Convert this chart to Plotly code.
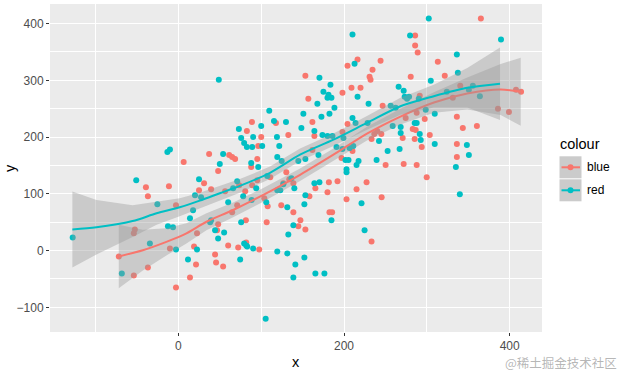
import plotly.graph_objects as go

# ---------------- data ----------------
red_x = [-39.2, -11.4, 6.4, 31.0, 37.1, 48.0, 39.5, 61.3, 64.9, 68.5, 82.7, 88.8, 96.4, 100.0, 117.8,
         132.7, 153.3, 156.9, 87.9, 95.2, 95.2, 89.1, 110.9, 130.3, 126.7, 138.8, 133.9, 73.4, 80.7,
         56.4, 103.7, 24.9, -2.9, -36.8, -52.6, -53.8, -71.9, -53.8, -36.8, -10.2, -2.9, 14.0, 18.9,
         21.3, 22.5, 46.7, 48.0, 44.3, 45.5, 54.0, 60.1, 64.9, 72.2, 81.5, 81.9, 97.6, 106.6, 107.8,
         124.2, 71.0, 144.8, 147.3, 153.3, 138.8, 158.2, 165.4, 180.0, 181.7, 192.1, 203.0, 215.1,
         227.2, 245.4, 182.4, 185.6, 233.2, 161.8, 164.2, 198.1, 196.9, 161.8, 210.2, 250.2, 272.0,
         287.7, 233.2, 236.5, 240.1, 245.0, 270.8, 285.3, 282.9, 286.5, 303.5, 293.8, 336.2, 336.2,
         299.8, 204.2, 246.6, 274.4, 287.7, 297.4, 336.2, 343.4, 360.4, 385.8, 399.1, 407.6, 413.7,
         340.3, 331.3, 291.4, 198.1, 209.0, 219.9, 204.2, 216.3, 244.1, 234.4, 230.8, 232.0, 280.5,
         321.6, 313.2, 285.8, 285.8, 288.9, 365.2]
red_y = [111.7, 113.5, 155.9, 118.8, 170.1, 140.0, 108.1, 168.3, 164.8, 161.2, 210.8, 226.7, 184.3,
         200.2, 225.0, 203.7, 308.2, 267.4, 147.1, 161.2, 124.1, 115.2, 129.4, 138.2, 118.8, 118.8,
         125.8, 115.2, 104.6, 104.6, 92.2, 106.4, 79.8, 95.8, 37.3, 30.3, -10.4, -44.1, -29.9, 3.7,
         -65.3, -47.6, 7.3, -24.6, 30.3, 35.6, 46.2, -6.9, -21.1, -28.1, 9.0, 67.4, 5.5, 53.3, 14.3,
         1.9, 49.7, 78.1, 79.8, 79.8, 42.7, 53.3, 37.3, 67.4, 95.8, 109.9, 102.8, 120.5, 122.3, 90.4,
         108.1, 120.5, 94.0, 67.4, 67.4, 16.1, 226.7, 202.0, 209.0, 163.0, 177.2, 175.4, 150.6, 152.4,
         150.6, 196.6, 205.5, 210.8, 205.5, 198.4, 196.6, 214.3, 212.6, 203.7, 182.5, 187.8, 164.8,
         129.4, 223.2, 255.1, 233.8, 242.7, 232.0, 235.6, 216.1, 219.7, 249.7, 244.4, 283.4, 279.8,
         290.5, 269.2, 272.8, 278.1, 286.9, 286.9, 325.9, 336.5, 334.7, 318.8, 306.4, 301.1, 306.4,
         308.2, 332.9, 379.0, 361.3, 348.9, 409.0]

teal_x = [48.8, -50.9, -13.3, -10.2, 24.9, 50.0, 54.0, 71.0, 73.0, 75.8, 79.4, 82.7, 89.1, 90.3, 100.0,
          101.2, 109.7, 115.4, 119.0, 121.8, 129.9, 148.5, 150.9, 87.9, 96.4, 107.3, 119.4, 124.7,
          136.4, 144.8, 153.3, 302.3, 210.2, 279.7, 389.5, 336.2, 212.7, 170.3, 337.4, 304.7, 183.6,
          175.1, 216.3, 181.2, 184.8, 180.0, 265.9, 272.0, 273.2, 276.1, 278.5, 355.5, 350.7, 324.1,
          364.0, 290.2, 167.8, 188.4, 229.6, 256.3, 262.3, 298.6, 309.5, 210.2, 182.4, 172.7, 213.9,
          228.4, 258.7, 268.4, 164.2, 268.4, 285.3, 287.7, 173.9, 180.0, 186.0, 199.3, 242.2, 291.4,
          292.6, 309.5, 348.3, 190.9, 198.1, 206.6, 211.1, 267.1, 252.6, 169.1, 350.7, 239.3, 201.7,
          205.4, 217.5, 215.1, 335.0, 203.0, 203.0, 164.2, 170.3, 153.3, 152.1, 221.1, 339.8, 184.8,
          224.8, 152.1, 165.4, 176.3, -127.6, -68.3, -34.4, -25.4, -12.6, -6.5, -2.9, 11.6, 14.0,
          17.7, 20.1, 22.5, 27.4, 38.3, 39.5, 48.0, 55.2, 44.3, 60.1, 74.6, 75.8, 78.2, 79.4, 81.9,
          83.1, 90.3, 105.4, 106.1, 119.4, 131.5, 131.5, 132.7, 138.8, 138.8, 141.2, 140.0, 119.4,
          123.0, 126.7, 88.4, 94.0, 66.1]
teal_y = [301.1, 124.1, 173.6, 178.2, 125.8, 152.4, 170.1, 122.3, 214.3, 198.4, 189.6, 182.5, 182.5,
          200.2, 219.7, 184.3, 246.2, 228.5, 200.2, 184.3, 226.7, 216.1, 240.9, 154.2, 147.1, 131.2,
          164.8, 157.7, 127.6, 157.7, 161.2, 409.0, 380.7, 379.0, 371.9, 345.3, 329.4, 304.6, 313.5,
          299.3, 292.2, 279.8, 271.0, 274.5, 269.2, 269.2, 288.7, 281.6, 271.0, 267.4, 271.0, 290.5,
          283.4, 279.8, 272.0, 267.4, 258.6, 251.5, 258.6, 255.1, 251.5, 248.0, 240.9, 233.8, 240.9,
          235.6, 225.0, 225.0, 219.7, 217.9, 210.8, 207.3, 225.0, 225.0, 203.7, 202.0, 202.0, 198.4,
          193.1, 205.5, 194.9, 187.8, 186.0, 182.5, 178.9, 180.7, 184.3, 178.9, 175.4, 168.3, 168.3,
          159.5, 159.5, 159.5, 157.7, 150.6, 147.1, 143.5, 138.2, 118.8, 120.5, 97.5, 81.6, 83.4,
          99.3, 53.3, 35.6, -12.2, -40.5, -40.5, 23.2, -40.5, 12.6, 81.6, 42.7, 40.9, 1.9, -15.8,
          56.8, 71.0, 97.5, 1.9, 94.0, 49.7, 53.3, 21.4, 32.0, 35.6, 85.1, -15.8, 49.7, 95.8, 12.6,
          9.0, 7.3, 3.7, -120.2, 85.1, -1.6, 76.3, -5.1, 28.5, 44.4, -47.6, -24.6, 109.9, 106.4,
          106.4, 117.0, 89.2, 109.9, 109.9]

# smoothed curves (loess) and half-width of their confidence bands
red_sx = [-72.0, -42.9, -14.5, 9.7, 33.9, 66.1, 102.5, 146.9, 187.2, 227.7, 268.1, 308.5, 348.8, 389.1, 413.3]
red_fit = [-10.4, 0.7, 15.4, 30.3, 50.8, 71.5, 98.1, 133.5, 168.9, 206.0, 236.1, 260.9, 276.8, 283.9, 279.8]
red_se = [56, 36, 24, 18, 15, 13, 12, 11, 11, 12, 14, 18, 28, 45, 60]

teal_sx = [-128.0, -98.9, -55.3, -26.3, 1.6, 25.8, 50.0, 74.2, 110.6, 146.9, 187.2, 227.7, 268.1, 308.3, 348.8, 388.3]
teal_fit = [37.3, 40.9, 52.0, 65.7, 76.3, 88.0, 101.1, 114.0, 137.0, 168.9, 195.4, 225.0, 254.3, 272.0, 286.9, 294.0]
teal_se = [67, 48, 28, 20, 16, 14, 13, 12, 11, 11, 11, 12, 15, 20, 35, 64]

legend_labels = ["blue", "red"]
RED = "#F8766D"
TEAL = "#00BFC4"

# ---------------- figure ----------------
W, H = 622, 375
ML, MR, MT, MB = 50, 80, 4, 43
PW, PH = W - ML - MR, H - MT - MB


def px(x):
    return (x - ML) / PW


def py(y):
    return (H - MB - y) / PH


fig = go.Figure()

fig.add_trace(go.Scatter(x=red_x, y=red_y, mode="markers",
                         marker=dict(color=RED, size=6, line=dict(width=0)), showlegend=False))
fig.add_trace(go.Scatter(x=teal_x, y=teal_y, mode="markers",
                         marker=dict(color=TEAL, size=6, line=dict(width=0)), showlegend=False))


def band(xs, fit, se, color):
    up = [f + s for f, s in zip(fit, se)]
    lo = [f - s for f, s in zip(fit, se)]
    fig.add_trace(go.Scatter(x=xs + xs[::-1], y=up + lo[::-1], fill="toself",
                             fillcolor="rgba(153,153,153,0.4)", line=dict(width=0),
                             mode="lines", hoverinfo="skip", showlegend=False))
    fig.add_trace(go.Scatter(x=xs, y=fit, mode="lines", line=dict(color=color, width=2, shape="spline", smoothing=0.8),
                             showlegend=False))


band(red_sx, red_fit, red_se, RED)
band(teal_sx, teal_fit, teal_se, TEAL)

shapes = []
annotations = []

# manual ggplot-style legend
annotations.append(dict(text="colour", x=px(558), y=py(144), xref="paper", yref="paper",
                        xanchor="left", yanchor="middle", showarrow=False,
                        font=dict(size=14.5, color="black")))
for i, (lab, col) in enumerate(zip(legend_labels, [RED, TEAL])):
    cy = 167.3 + 23 * i
    shapes.append(dict(type="rect", xref="paper", yref="paper", x0=px(559.5), x1=px(581.5),
                       y0=py(cy - 11), y1=py(cy + 11), fillcolor="#CBCBCB", line=dict(width=0)))
    shapes.append(dict(type="line", xref="paper", yref="paper", x0=px(561.5), x1=px(580),
                       y0=py(cy), y1=py(cy), line=dict(color=col, width=2)))
    shapes.append(dict(type="circle", xref="paper", yref="paper", x0=px(567.5), x1=px(573.5),
                       y0=py(cy - 3), y1=py(cy + 3), fillcolor=col, line=dict(width=0)))
    annotations.append(dict(text=lab, x=px(585), y=py(cy), xref="paper", yref="paper",
                            xanchor="left", yanchor="middle", showarrow=False,
                            font=dict(size=12, color="black")))

# axis titles
annotations.append(dict(text="x", x=0.5, y=py(362), xref="paper", yref="paper", xanchor="center",
                        yanchor="middle", showarrow=False, font=dict(size=14.5, color="black")))
annotations.append(dict(text="y", x=px(10), y=0.5, xref="paper", yref="paper", xanchor="center",
                        yanchor="middle", showarrow=False, textangle=-90,
                        font=dict(size=14.5, color="black")))
# watermark
annotations.append(dict(text="@稀土掘金技术社区", x=px(619), y=py(362), xref="paper", yref="paper",
                        xanchor="right", yanchor="middle", showarrow=False,
                        font=dict(size=12.5, color="rgba(120,120,120,0.55)",
                                  family="Noto Sans CJK SC")))

axis_common = dict(showgrid=True, gridcolor="white", gridwidth=1.1, zeroline=False,
                   showline=False, ticks="outside", ticklen=3, tickcolor="#333333", tickwidth=1,
                   tickfont=dict(size=12, color="#4D4D4D"))

fig.update_layout(
    width=W, height=H,
    margin=dict(l=ML, r=MR, t=MT, b=MB),
    paper_bgcolor="white", plot_bgcolor="#EBEBEB",
    font=dict(family="Liberation Sans, Arial, sans-serif"),
    showlegend=False,
    hovermode=False,
    shapes=shapes, annotations=annotations,
    xaxis=dict(range=[-155, 439], tickmode="array", tickvals=[0, 200, 400],
               minor=dict(tickmode="array", tickvals=[-100, 100, 300], showgrid=True,
                          gridcolor="white", gridwidth=0.5, ticks=""),
               **axis_common),
    yaxis=dict(range=[-143.5, 434.5], tickmode="array", tickvals=[-100, 0, 100, 200, 300, 400],
               minor=dict(tickmode="array", tickvals=[-50, 50, 150, 250, 350], showgrid=True,
                          gridcolor="white", gridwidth=0.5, ticks=""),
               **axis_common),
)

fig.write_html("out.html", config={"displayModeBar": False},
               post_script="document.body.style.margin='0';document.body.style.overflow='hidden';")
